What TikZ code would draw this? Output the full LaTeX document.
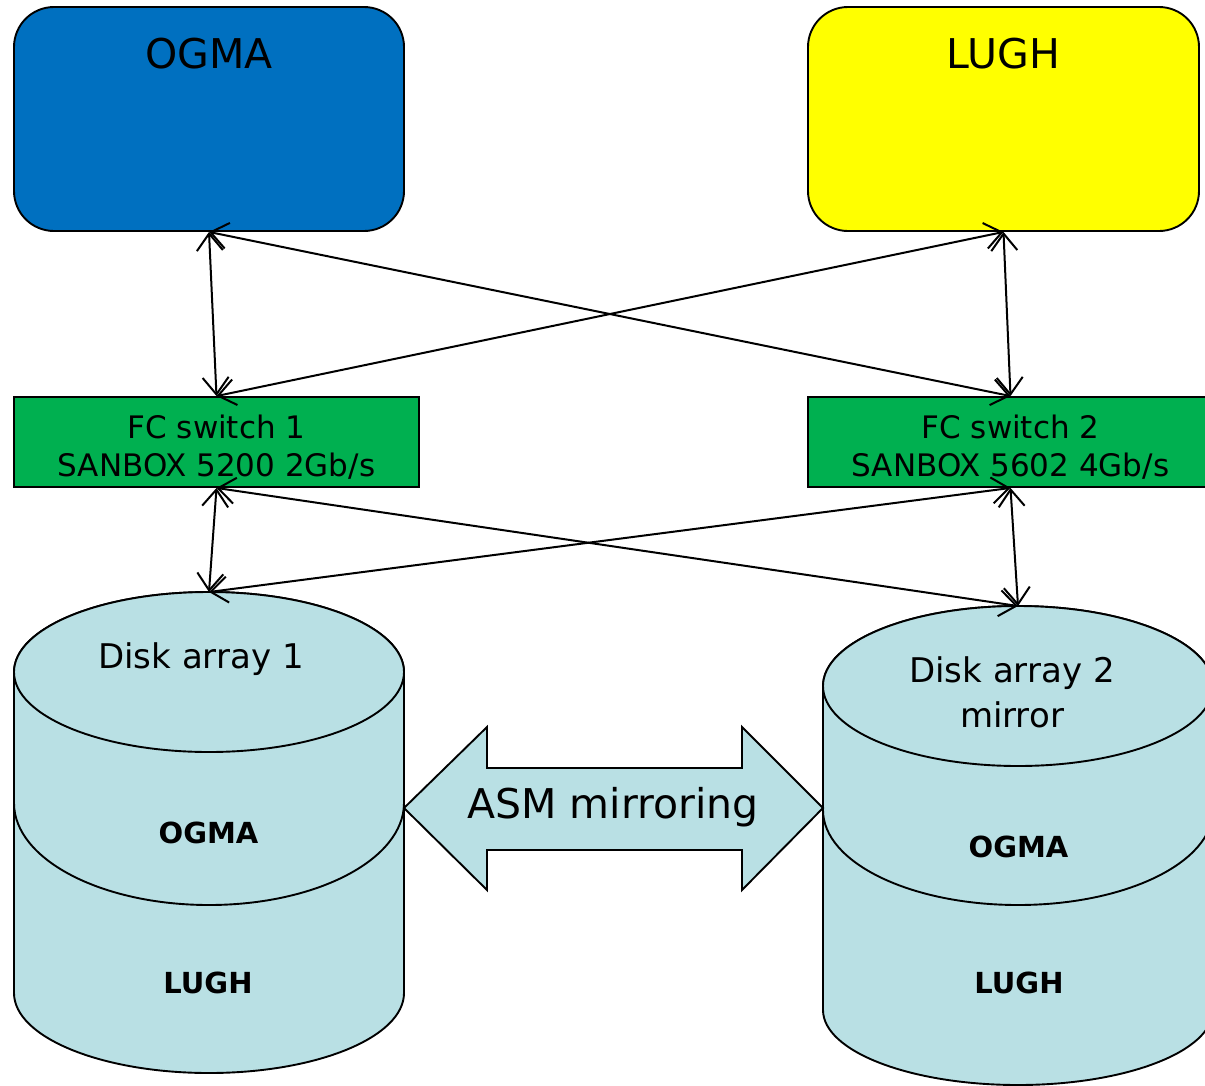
\documentclass[tikz,border=0pt]{standalone}
\usepackage{fontspec}
\setmainfont{DejaVu Sans}
\usetikzlibrary{arrows.meta,positioning}
\definecolor{ogmablue}{HTML}{0070C0}
\definecolor{lughyellow}{HTML}{FFFF00}
\definecolor{switchgreen}{HTML}{00B050}
\definecolor{diskcyan}{HTML}{B9E0E4}
\begin{document}
\begin{tikzpicture}[x = 1pt,
                    y = -1pt,
                    color = {black}]
% styles
\tikzset{hostbox/.style={draw=black,line width=1.9pt,rounded corners=40pt,
           minimum width=390pt,minimum height=224pt,inner sep=0pt},
         hosttext/.style={anchor=base,inner sep=0pt,font=\fontsize{41}{48}\selectfont},
         switchbox/.style={draw=black,line width=1.9pt,fill=switchgreen,
           minimum width=405pt,minimum height=90pt,inner sep=0pt,align=center,
           font=\fontsize{31}{38}\selectfont},
         diskface/.style={fill=diskcyan,draw=black,line width=1.9pt,line join=round},
         disktext/.style={anchor=base,inner sep=0pt,align=center,font=\fontsize{34}{45}\selectfont},
         partText/.style={anchor=base,inner sep=0pt,font=\bfseries\fontsize{29}{34}\selectfont},
         link/.style={line width=2pt,
           {Straight Barb[length=17pt,width=26pt]}-{Straight Barb[length=17pt,width=26pt]}}}
\useasboundingbox (0,0) rectangle (1205,1085);

%hosts
\node[hostbox,fill=ogmablue] (ogma) at (209,119) {};
\node[hostbox,fill=lughyellow,minimum width=391pt] (lugh) at (1003.5,119) {};
\node[hosttext] (ogmaT) at (209,68) {OGMA};
\node[hosttext] (lughT) at (1003.5,68) {LUGH};

%switches
\node[switchbox] (fc1) at (216.5,442) {};
\node[switchbox] (fc2) at (1010.5,442) {};
\node[switchbox,draw=none,fill=none] (fc1T) at (216.5,447.5) {FC switch 1\\SANBOX 5200 2Gb/s};
\node[switchbox,draw=none,fill=none] (fc2T) at (1010.5,447.5) {FC switch 2\\SANBOX 5602 4Gb/s};

%disk array 1
\draw[diskface] (14,803) -- (14,993) arc (180:0:195 and 80) -- (404,803) -- cycle;
\draw[diskface] (14,672) -- (14,803) arc (180:0:195 and 102) -- (404,672)
  arc (360:180:195 and 80) -- cycle;
\draw[diskface] (209,672) ellipse (195 and 80);
\coordinate (disk1) at (209,592);
%disk array 2
\draw[diskface] (823,810) -- (823,1010) arc (180:0:195 and 75) -- (1213,810) -- cycle;
\draw[diskface] (823,686) -- (823,810) arc (180:0:195 and 95) -- (1213,686)
  arc (360:180:195 and 80) -- cycle;
\draw[diskface] (1018,686) ellipse (195 and 80);
\coordinate (disk2) at (1018,606);

%disk texts
\node[disktext] (d1T) at (201,668) {Disk array 1};
\node[disktext] (d2T) at (1012,727) {Disk array 2\\mirror};
\node[partText] (d1a) at (208.5,843) {OGMA};
\node[partText] (d1b) at (208,993) {LUGH};
\node[partText] (d2a) at (1018.5,857) {OGMA};
\node[partText] (d2b) at (1019,993) {LUGH};

%mirroring arrow
\draw[diskface,line join=miter]
  (404,808) -- (487,727) -- (487,768) -- (742,768) -- (742,727) -- (823,808)
  -- (742,890) -- (742,850) -- (487,850) -- (487,890) -- cycle;
\node[anchor=base,inner sep=0pt,font=\fontsize{41}{48}\selectfont] (asm) at (613,818) {ASM mirroring};

%links
\draw[link] (ogma.south) -- (fc1.north);
\draw[link] (ogma.south) -- (fc2.north);
\draw[link] (lugh.south) -- (fc1.north);
\draw[link] (lugh.south) -- (fc2.north);
\draw[link] (fc1.south) -- (disk1);
\draw[link] (fc1.south) -- (disk2);
\draw[link] (fc2.south) -- (disk1);
\draw[link] (fc2.south) -- (disk2);
\end{tikzpicture}
\end{document}
